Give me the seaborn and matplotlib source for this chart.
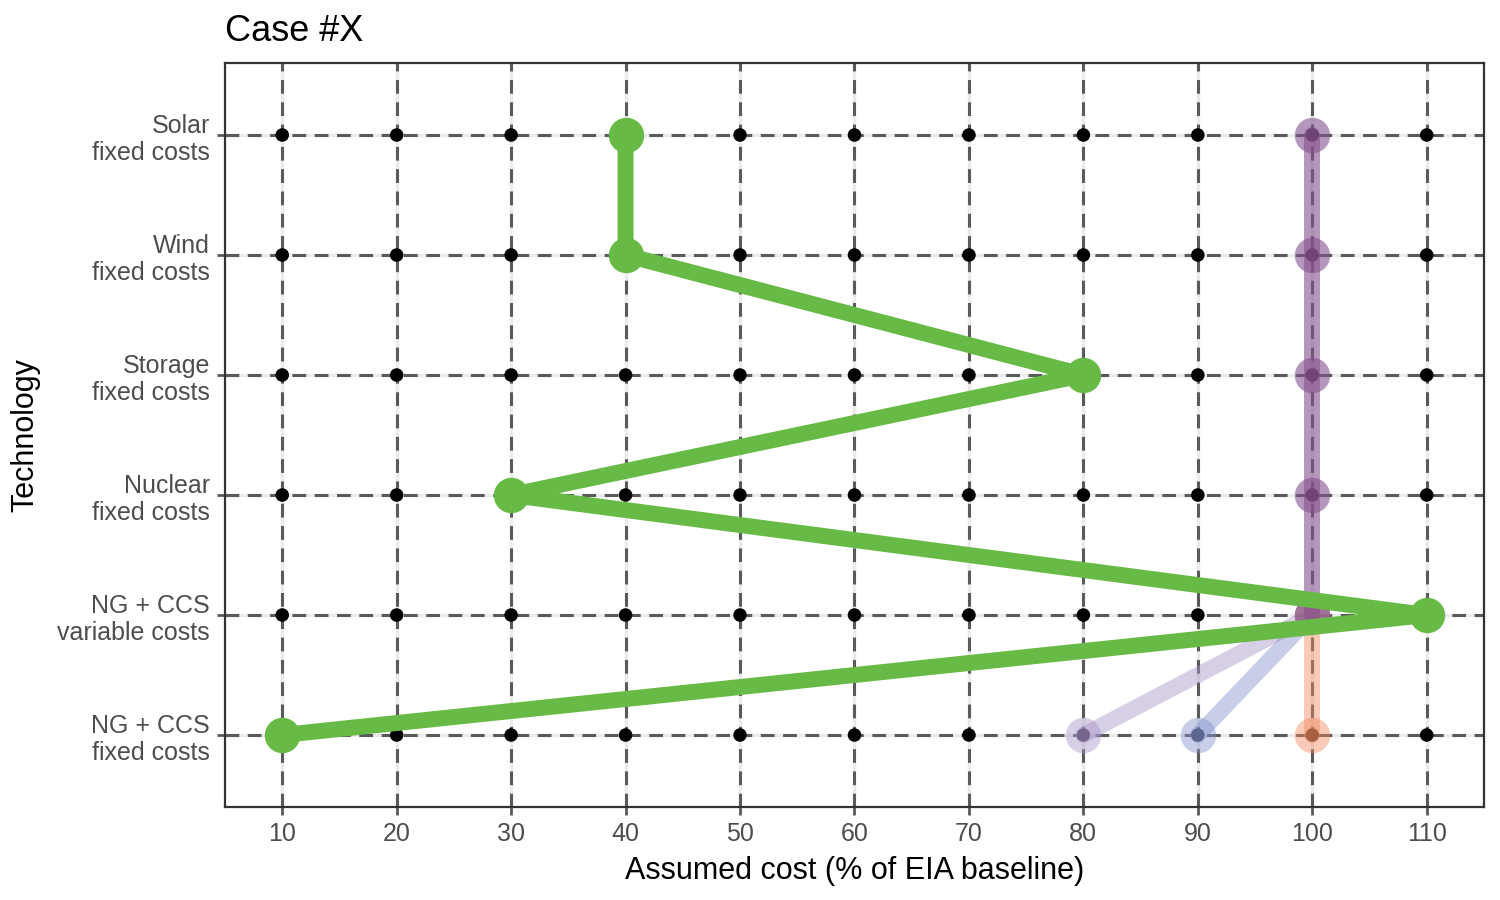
"""
Case #X: assumed technology costs as paths over the full grid of cost levels
"""

import numpy as np
import pandas as pd
import matplotlib

matplotlib.use("Agg")
import matplotlib.pyplot as plt
import seaborn as sns

# Data
technologies = [
    "Solar\nfixed costs",
    "Wind\nfixed costs",
    "Storage\nfixed costs",
    "Nuclear\nfixed costs",
    "NG + CCS\nvariable costs",
    "NG + CCS\nfixed costs",
]
cost_levels = [10, 20, 30, 40, 50, 60, 70, 80, 90, 100, 110]

case_x = [40, 40, 80, 30, 110, 10]
baseline = [100, 100, 100, 100, 100, None]
ngccs_80 = [None, None, None, None, 100, 80]
ngccs_90 = [None, None, None, None, 100, 90]
ngccs_100 = [None, None, None, None, 100, 100]

# Styles
GREEN = "#67BA45"
PURPLE = "#85528F"
LILAC = "#A795C9"
BLUE = "#8592CC"
SALMON = "#F08A62"
GRID_DARK = "#5A5A5A"
GRID_LIGHT = "#EBEBEB"
TEXT_GREY = "#4D4D4D"

sns.set_theme(style="white")
plt.rcParams["font.family"] = ["Liberation Sans", "DejaVu Sans"]

fig = plt.figure(figsize=(15, 9), dpi=100)
ax = fig.add_axes([0.15, 0.1033, 0.8393, 0.8267])

ypos = np.arange(len(technologies))

# Background grid: light solid underneath, dark dashes on top
for xv in cost_levels:
    ax.axvline(xv, color=GRID_LIGHT, lw=2.4, zorder=0)
    ax.axvline(xv, color=GRID_DARK, lw=2.2, dashes=(4.5, 2.8), zorder=0.5)
for yv in ypos:
    ax.axhline(yv, color=GRID_LIGHT, lw=2.4, zorder=0)
    ax.axhline(yv, color=GRID_DARK, lw=2.2, dashes=(4.5, 2.8), zorder=0.5)

# Every cost level for every technology
grid = pd.DataFrame(
    [(c, y) for y in ypos for c in cost_levels], columns=["cost", "tech"]
)
sns.scatterplot(
    data=grid, x="cost", y="tech", color="black", s=95,
    edgecolor="none", ax=ax, zorder=2,
)


def draw_path(values, color, alpha, z):
    df = pd.DataFrame({"cost": values, "tech": ypos}).dropna()
    sns.lineplot(
        data=df, x="cost", y="tech", sort=False, estimator=None,
        color=color, alpha=alpha, lw=11.5, marker="o", markersize=25.5,
        markeredgewidth=0, ax=ax, zorder=z,
    )


draw_path(ngccs_80, LILAC, 0.45, 3)
draw_path(ngccs_90, BLUE, 0.45, 3)
draw_path(ngccs_100, SALMON, 0.45, 3)
draw_path(baseline, PURPLE, 0.6, 3)
draw_path(case_x, GREEN, 1.0, 4)

ax.set_xlim(5, 115)
ax.set_ylim(len(technologies) - 0.4, -0.6)
ax.set_xticks(cost_levels)
ax.set_xticklabels([str(c) for c in cost_levels])
ax.set_yticks(ypos)
ax.set_yticklabels(technologies, linespacing=1.2)

ax.tick_params(
    axis="both", which="major", length=6, width=2, color=GRID_DARK,
    labelsize=18, labelcolor=TEXT_GREY, pad=5, left=True, bottom=True,
)
for lab in ax.get_yticklabels():
    lab.set_horizontalalignment("right")

for spine in ax.spines.values():
    spine.set_color("#333333")
    spine.set_linewidth(1.6)
    spine.set_zorder(5)

ax.set_xlabel("Assumed cost (% of EIA baseline)", fontsize=22, color="black", labelpad=7)
ax.set_ylabel("Technology", fontsize=22, color="black", labelpad=12)
ax.set_title("Case #X", loc="left", fontsize=26, color="black", pad=16)

fig.savefig("out.png", dpi=100)
